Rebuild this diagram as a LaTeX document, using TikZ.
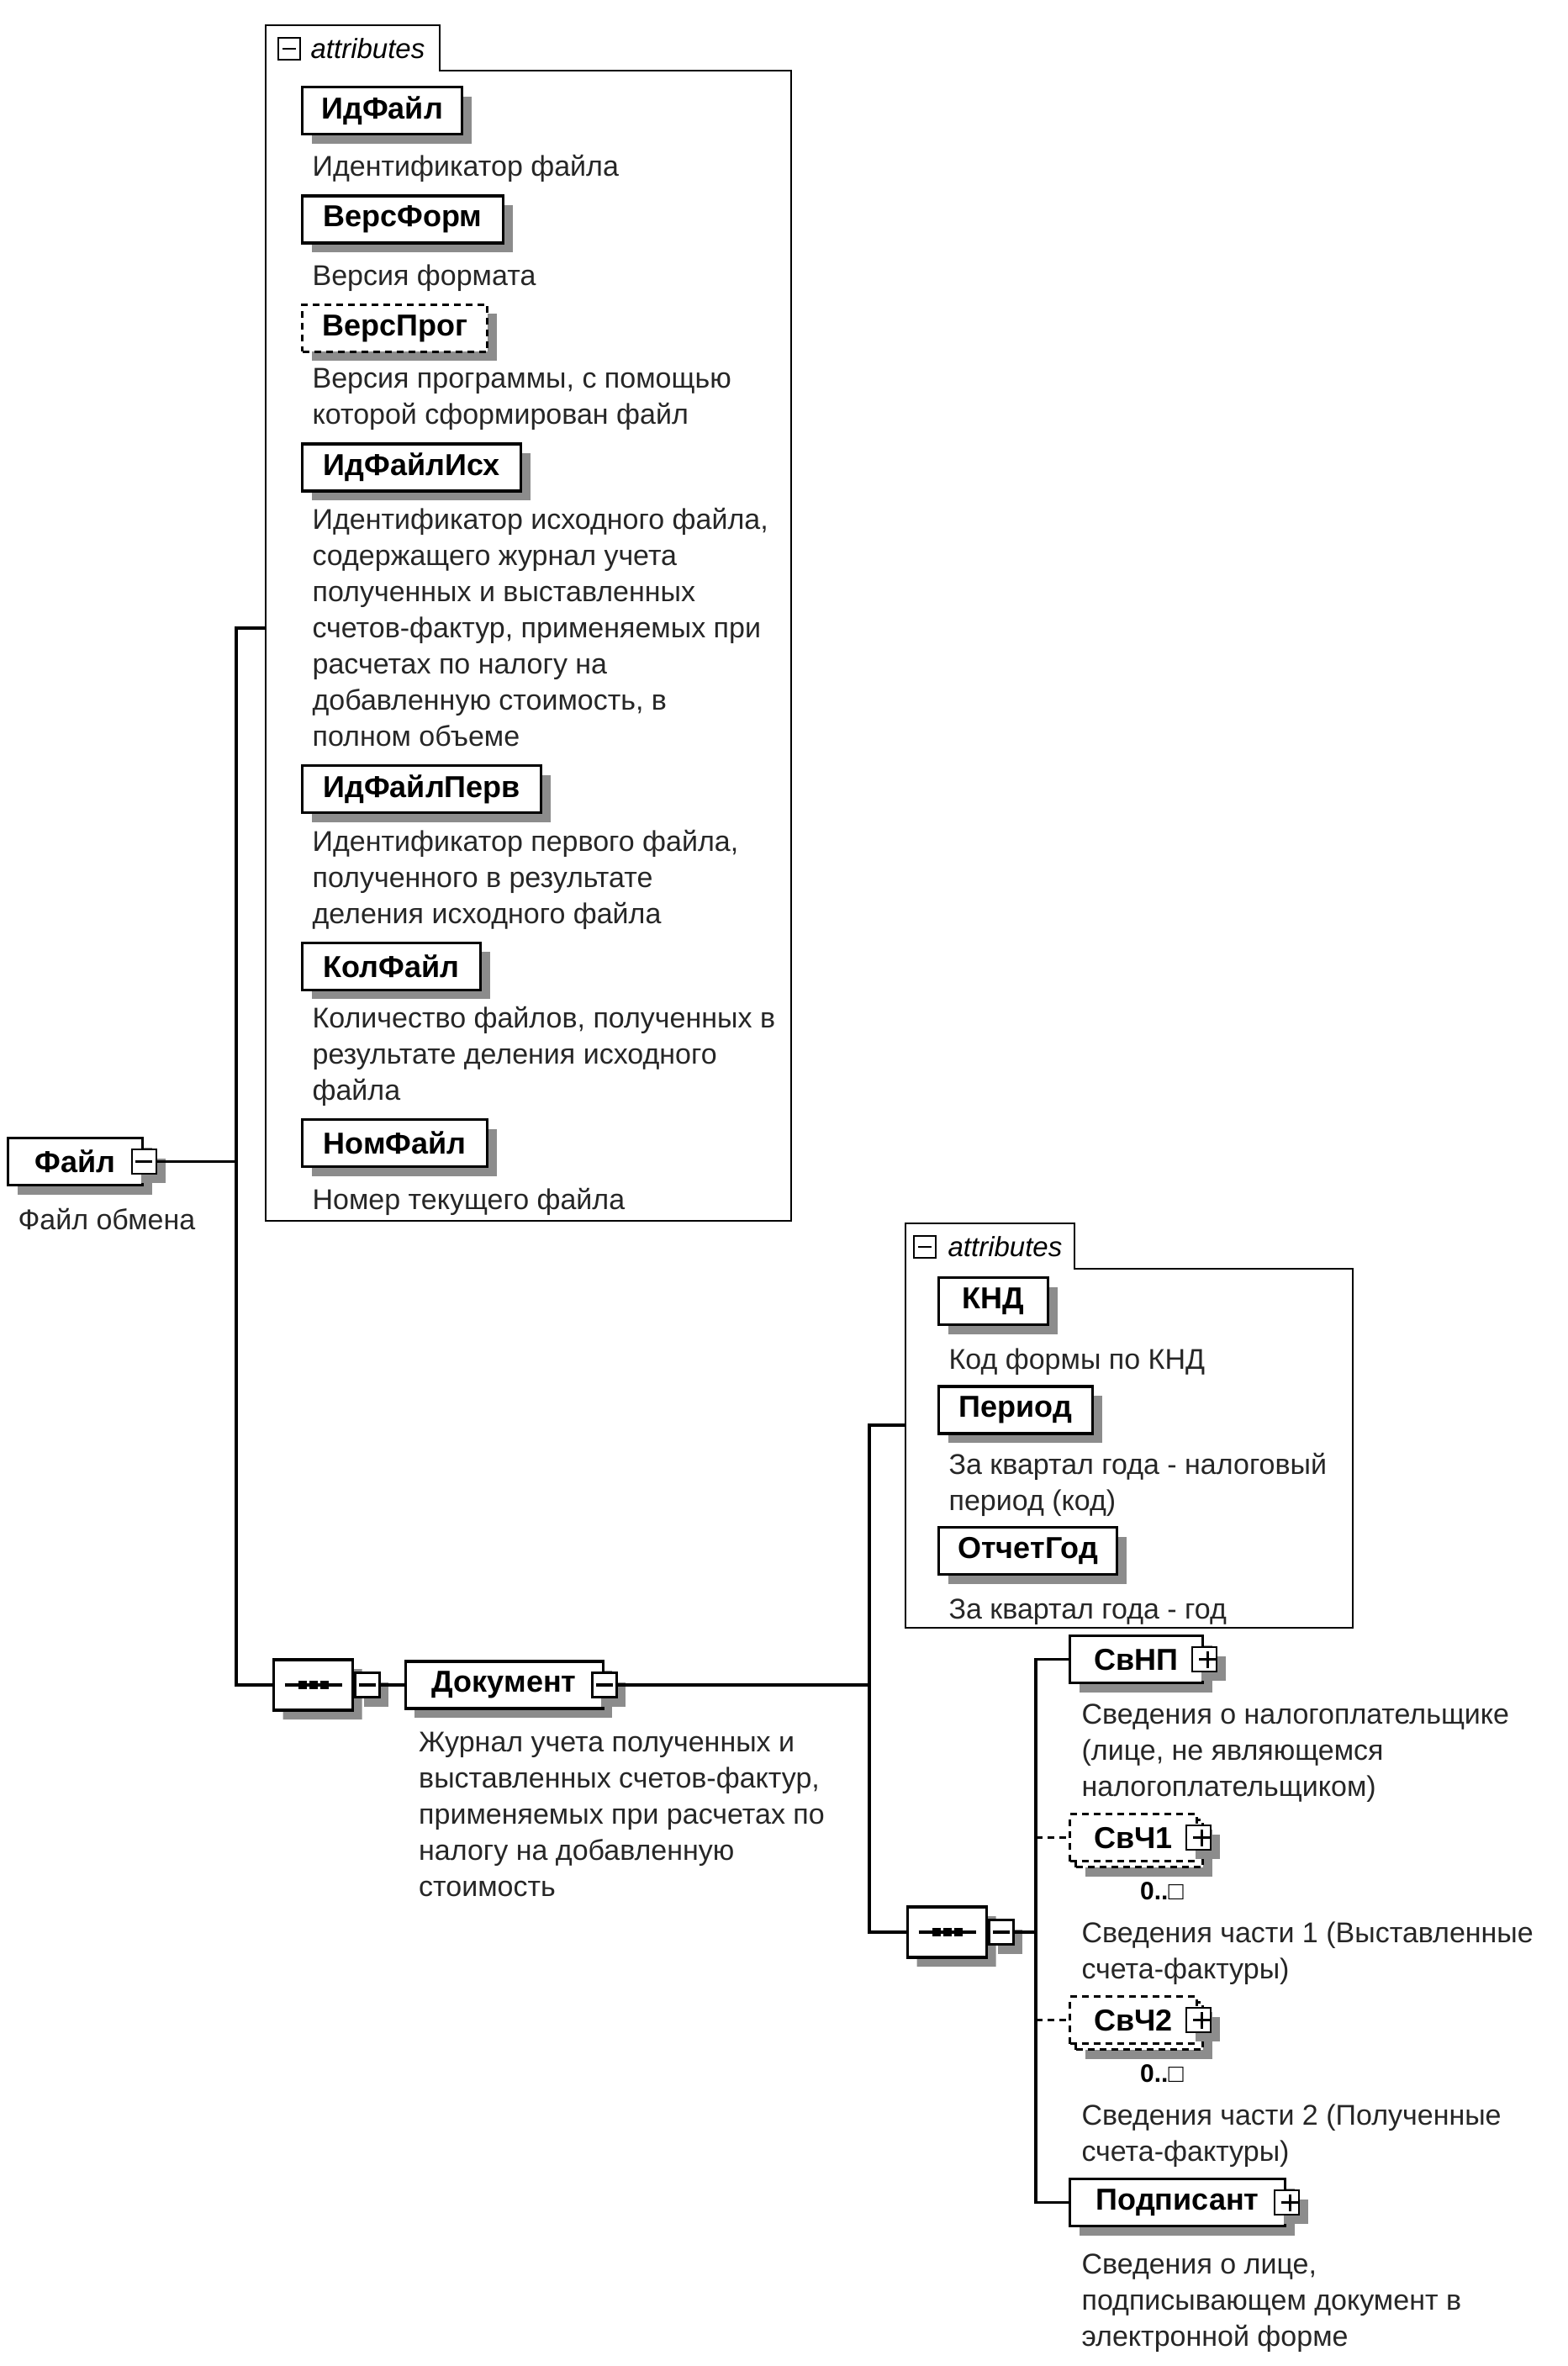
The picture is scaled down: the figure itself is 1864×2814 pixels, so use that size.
\documentclass[tikz,border=0pt]{standalone}
\usepackage{fontspec}
\setmainfont{Liberation Sans}
\usetikzlibrary{positioning,shadows,shapes.misc}

\newcommand{\minusmark}{\rule{10pt}{1.6pt}}
\newcommand{\plusmark}{\rule{10pt}{1.6pt}\hspace{-5.8pt}\raisebox{-4.2pt}{\rule{1.6pt}{10pt}}\hspace{4.2pt}}

\begin{document}
\begin{tikzpicture}[x=0.5pt,y=-0.5pt,line width=1.6pt,
    shade box/.style={drop shadow={shadow xshift=5.5pt,shadow yshift=-5.5pt,fill=black!45,opacity=1}},
    elem/.style={rectangle,draw,fill=white,minimum height=28pt,inner sep=0pt,shade box,
      font=\fontsize{18}{20}\selectfont\bfseries},
    opt elem/.style={elem,dash pattern=on 4pt off 3pt},
    many elem/.style={rectangle,draw,fill=white,minimum height=28pt,inner sep=0pt,
      dash pattern=on 4pt off 3pt,font=\fontsize{18}{20}\selectfont\bfseries,
      drop shadow={shadow xshift=9pt,shadow yshift=-9pt,fill=black!45,opacity=1},
      copy shadow={shadow xshift=3.5pt,shadow yshift=-3.5pt,draw,fill=white,
        line width=1.6pt,dash pattern=on 4pt off 3pt}},
    icon/.style={rectangle,draw,fill=white,line width=1.2pt,minimum size=14.5pt,inner sep=0pt,shade box},
    seq/.style={chamfered rectangle,chamfered rectangle xsep=7pt,chamfered rectangle ysep=7.5pt,
      draw,fill=white,minimum width=47pt,minimum height=30pt,inner sep=0pt,shade box},
    desc/.style={align=left,inner xsep=6pt,inner ysep=0pt,text=black!85,
      font=\fontsize{17}{21.5}\selectfont,
      execute at begin node=\strut,execute at end node=\strut},
    occ/.style={inner sep=0pt,font=\fontsize{15}{18}\selectfont\bfseries},
    tabicon/.style={rectangle,draw,line width=1pt,minimum size=13pt,inner sep=0pt},
    tablabel/.style={inner sep=0pt,font=\fontsize{16.5}{18}\selectfont\itshape},
    opt line/.style={dash pattern=on 4pt off 3pt}]

  \useasboundingbox (0,0) rectangle (1864,2814);

  % root element
  \node[elem,minimum width=80pt,anchor=north west] (file) at (8,1352) {Файл};
  \node[icon] (filemin) at (file.east) {\minusmark};
  \node[desc,below right=10pt and 0pt of file.south west] (filed) {Файл обмена};

  % attributes of Файл
  \coordinate (g1) at (316,30);
  \coordinate (g1tab) at (523,84);
  \coordinate (g1end) at (941,1452);
  \draw[line width=1.4pt] (g1) -| (g1tab) -| (g1end) -| (g1) -- cycle;
  \node[tabicon] (g1min) at (344,58) {\rule{8pt}{1pt}};
  \node[tablabel,right=5pt of g1min] (g1lab) {attributes};

  \node[elem,minimum width=95pt,anchor=north west] (idfile) at (358,102) {ИдФайл};
  \node[desc,below right=8.5pt and 0pt of idfile.south west] (idfiled) {Идентификатор файла};
  \node[elem,minimum width=119.5pt,below right=3.5pt and 0pt of idfiled.south west] (verform) {ВерсФорм};
  \node[desc,below right=8.5pt and 0pt of verform.south west] (verformd) {Версия формата};
  \node[opt elem,minimum width=110pt,below right=3.5pt and 0pt of verformd.south west] (verprog) {ВерсПрог};
  \node[desc,below right=8.5pt and 0pt of verprog.south west] (verprogd) {Версия программы, с помощью\\которой сформирован файл};
  \node[elem,minimum width=130pt,below right=3.5pt and 0pt of verprogd.south west] (idisx) {ИдФайлИсх};
  \node[desc,below right=8.5pt and 0pt of idisx.south west] (idisxd) {Идентификатор исходного файла,\\содержащего журнал учета\\полученных и выставленных\\счетов-фактур, применяемых при\\расчетах по налогу на\\добавленную стоимость, в\\полном объеме};
  \node[elem,minimum width=142pt,below right=3.5pt and 0pt of idisxd.south west] (idperv) {ИдФайлПерв};
  \node[desc,below right=8.5pt and 0pt of idperv.south west] (idpervd) {Идентификатор первого файла,\\полученного в результате\\деления исходного файла};
  \node[elem,minimum width=106pt,below right=3.5pt and 0pt of idpervd.south west] (kolfile) {КолФайл};
  \node[desc,below right=8.5pt and 0pt of kolfile.south west] (kolfiled) {Количество файлов, полученных в\\результате деления исходного\\файла};
  \node[elem,minimum width=110pt,below right=3.5pt and 0pt of kolfiled.south west] (nomfile) {НомФайл};
  \node[desc,below right=8.5pt and 0pt of nomfile.south west] (nomfiled) {Номер текущего файла};

  % sequence with Документ
  \node[seq,anchor=west] (seq1) at (324,2004) {};
  \node[icon,right=0pt of seq1] (seq1min) {\minusmark};
  \node[elem,minimum width=117.5pt,right=14pt of seq1min] (doc) {Документ};
  \node[icon] (docmin) at (doc.east) {\minusmark};
  \node[desc,below right=12.5pt and 2pt of doc.south west] (docd) {Журнал учета полученных и\\выставленных счетов-фактур,\\применяемых при расчетах по\\налогу на добавленную\\стоимость};

  % attributes of Документ
  \coordinate (g2) at (1077,1455);
  \coordinate (g2tab) at (1278,1509);
  \coordinate (g2end) at (1609,1936);
  \draw[line width=1.4pt] (g2) -| (g2tab) -| (g2end) -| (g2) -- cycle;
  \node[tabicon] (g2min) at (1100,1483) {\rule{8pt}{1pt}};
  \node[tablabel,right=6pt of g2min] (g2lab) {attributes};

  \node[elem,minimum width=65pt,anchor=north west] (knd) at (1115,1518) {КНД};
  \node[desc,below right=10pt and 0pt of knd.south west] (kndd) {Код формы по КНД};
  \node[elem,minimum width=91.5pt,below right=2pt and 0pt of kndd.south west] (period) {Период};
  \node[desc,below right=10pt and 0pt of period.south west] (periodd) {За квартал года - налоговый\\период (код)};
  \node[elem,minimum width=106pt,below right=2pt and 0pt of periodd.south west] (otchgod) {ОтчетГод};
  \node[desc,below right=10pt and 0pt of otchgod.south west] (otchgodd) {За квартал года - год};

  % children of Документ
  \node[seq,anchor=west] (seq2) at (1078,2298) {};
  \node[icon,right=0pt of seq2] (seq2min) {\minusmark};

  \node[elem,minimum width=79pt,anchor=north west] (svnp) at (1271,1944) {СвНП};
  \node[icon] (svnpplus) at (svnp.east) {\plusmark};
  \node[desc,below right=11pt and 1pt of svnp.south west] (svnpd) {Сведения о налогоплательщике\\(лице, не являющемся\\налогоплательщиком)};
  \node[many elem,minimum width=75.5pt,below right=2.5pt and -1pt of svnpd.south west] (svch1) {СвЧ1};
  \node[icon] (svch1plus) at (svch1.east) {\plusmark};
  \node[occ,below left=11pt and 8pt of svch1.south east] (svch1occ) {0..□};
  \node[desc,below right=34.5pt and 1pt of svch1.south west] (svch1d) {Сведения части 1 (Выставленные\\счета-фактуры)};
  \node[many elem,minimum width=75.5pt,below right=2.5pt and -1pt of svch1d.south west] (svch2) {СвЧ2};
  \node[icon] (svch2plus) at (svch2.east) {\plusmark};
  \node[occ,below left=11pt and 8pt of svch2.south east] (svch2occ) {0..□};
  \node[desc,below right=34.5pt and 1pt of svch2.south west] (svch2d) {Сведения части 2 (Полученные\\счета-фактуры)};
  \node[elem,minimum width=128pt,below right=2.5pt and -1pt of svch2d.south west] (podp) {Подписант};
  \node[icon] (podpplus) at (podp.east) {\plusmark};
  \node[desc,below right=15pt and 1pt of podp.south west] (podpd) {Сведения о лице,\\подписывающем документ в\\электронной форме};

  \foreach \s in {seq1,seq2} {
    \draw ([xshift=-17pt]\s.center) -- ([xshift=17pt]\s.center);
    \foreach \dx in {-6.5,0,6.5}
      \fill ([xshift=\dx pt]\s.center) +(-2.5pt,-2.5pt) rectangle +(2.5pt,2.5pt);
  }

  % connectors
  \coordinate (v1) at (281,747);
  \coordinate (v2) at (1034,1695);
  \coordinate (v3) at (1232,1972);
  \draw (filemin.east) -- (filemin.east -| v1);
  \draw (g1 |- v1) -- (v1) -- (v1 |- seq1.west) -- (seq1.west);
  \draw (seq1min.east) -- (doc.west);
  \draw (docmin.east) -- (docmin.east -| v2);
  \draw (g2 |- v2) -- (v2) -- (v2 |- seq2.west) -- (seq2.west);
  \draw (seq2min.east) -- (seq2min.east -| v3);
  \draw (svnp.west) -- (svnp.west -| v3) -- (podp.west -| v3) -- (podp.west);
  \draw[opt line] (svch1.west -| v3) -- (svch1.west);
  \draw[opt line] (svch2.west -| v3) -- (svch2.west);
\end{tikzpicture}
\end{document}
